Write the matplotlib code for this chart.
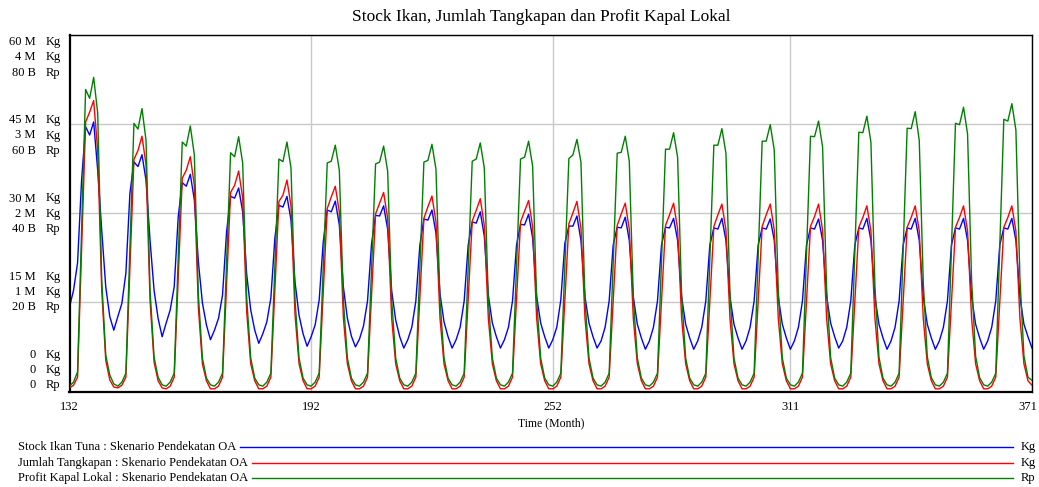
import numpy as np
import matplotlib
matplotlib.use("Agg")
import matplotlib.pyplot as plt
from matplotlib.lines import Line2D
from matplotlib.transforms import ScaledTranslation

plt.rcParams['font.family'] = ['Liberation Serif', 'DejaVu Serif']

months = np.arange(132, 372)

# Stock Ikan Tuna (M Kg), one row per 12-month season
stock_ikan = [
    14.2, 17.0, 21.6, 35.5, 44.5, 43.1, 45.3, 37.2, 27.1, 17.6, 12.6, 10.3,
    12.6, 14.8, 19.9, 33.3, 38.6, 37.8, 39.8, 35.5, 25.4, 17.0, 12.3, 9.2,
    11.5, 13.7, 17.6, 29.4, 35.1, 34.5, 36.5, 32.2, 21.8, 14.9, 11.2, 8.7,
    10.3, 12.3, 16.2, 26.8, 32.8, 32.5, 34.2, 30.2, 19.7, 13.7, 10.3, 8.1,
    9.7, 11.7, 15.7, 25.8, 31.3, 31.0, 32.8, 28.8, 18.4, 12.8, 9.7, 7.6,
    9.2, 11.2, 15.4, 25.1, 30.5, 30.2, 32.0, 28.0, 17.6, 12.3, 9.3, 7.5,
    8.8, 11.0, 15.2, 24.8, 29.6, 29.5, 31.2, 27.3, 16.9, 12.0, 9.2, 7.3,
    8.7, 10.8, 15.2, 24.6, 29.0, 28.8, 30.5, 26.6, 16.4, 11.7, 9.2, 7.3,
    8.7, 10.8, 15.2, 24.6, 28.5, 28.3, 30.2, 26.1, 16.2, 11.5, 9.2, 7.3,
    8.7, 10.8, 15.2, 24.6, 28.1, 28.0, 29.8, 25.8, 16.0, 11.5, 9.2, 7.3,
    8.7, 10.8, 15.4, 24.9, 27.8, 27.8, 29.5, 25.4, 15.9, 11.5, 9.2, 7.3,
    8.5, 10.8, 15.2, 24.6, 27.6, 27.5, 29.3, 25.4, 15.9, 11.3, 9.0, 7.1,
    8.5, 10.8, 15.2, 24.6, 27.6, 27.5, 29.1, 25.4, 15.9, 11.3, 9.0, 7.1,
    8.5, 10.8, 15.2, 24.6, 27.5, 27.3, 29.1, 25.4, 15.9, 11.3, 9.0, 7.1,
    8.5, 10.8, 15.2, 24.6, 27.5, 27.3, 29.0, 25.4, 15.9, 11.3, 9.0, 7.1,
    8.5, 10.8, 15.2, 24.6, 27.5, 27.3, 29.0, 25.4, 16.0, 11.5, 9.2, 7.3,
    8.5, 10.8, 15.2, 24.6, 27.5, 27.3, 29.1, 25.4, 15.9, 11.3, 9.0, 7.1,
    8.5, 10.8, 15.2, 24.6, 27.5, 27.3, 29.1, 25.4, 15.9, 11.3, 9.0, 7.1,
    8.5, 10.8, 15.2, 24.6, 27.5, 27.3, 29.1, 25.4, 15.9, 11.3, 9.0, 7.1,
    8.5, 10.8, 15.2, 24.6, 27.5, 27.3, 29.1, 25.4, 15.9, 11.3, 9.2, 7.3,
]

# Jumlah Tangkapan (M Kg)
jumlah_tangkapan = [
    0.04, 0.07, 0.16, 1.58, 3.02, 3.13, 3.26, 2.70, 1.14, 0.35, 0.13, 0.05,
    0.04, 0.07, 0.16, 1.38, 2.60, 2.70, 2.86, 2.54, 1.02, 0.33, 0.12, 0.04,
    0.03, 0.06, 0.16, 1.27, 2.39, 2.48, 2.63, 2.31, 0.94, 0.31, 0.12, 0.03,
    0.03, 0.06, 0.16, 1.19, 2.23, 2.31, 2.47, 2.17, 0.89, 0.31, 0.12, 0.03,
    0.03, 0.06, 0.16, 1.14, 2.13, 2.20, 2.37, 2.08, 0.86, 0.31, 0.12, 0.03,
    0.03, 0.06, 0.16, 1.10, 2.05, 2.18, 2.30, 2.01, 0.83, 0.31, 0.12, 0.03,
    0.03, 0.06, 0.16, 1.08, 1.99, 2.11, 2.23, 1.94, 0.82, 0.31, 0.12, 0.03,
    0.03, 0.06, 0.16, 1.05, 1.94, 2.07, 2.19, 1.90, 0.82, 0.31, 0.12, 0.03,
    0.03, 0.06, 0.16, 1.04, 1.91, 2.03, 2.16, 1.86, 0.82, 0.31, 0.12, 0.03,
    0.03, 0.06, 0.16, 1.03, 1.90, 2.02, 2.14, 1.85, 0.82, 0.31, 0.12, 0.03,
    0.03, 0.06, 0.16, 1.02, 1.88, 2.00, 2.13, 1.83, 0.82, 0.31, 0.12, 0.03,
    0.03, 0.06, 0.16, 1.01, 1.86, 1.99, 2.11, 1.82, 0.82, 0.31, 0.12, 0.03,
    0.03, 0.06, 0.16, 1.01, 1.86, 1.98, 2.11, 1.82, 0.82, 0.31, 0.12, 0.03,
    0.03, 0.06, 0.16, 1.01, 1.85, 1.98, 2.10, 1.81, 0.82, 0.31, 0.12, 0.03,
    0.03, 0.06, 0.16, 1.01, 1.85, 1.98, 2.10, 1.81, 0.82, 0.31, 0.12, 0.03,
    0.03, 0.06, 0.16, 1.00, 1.85, 1.96, 2.10, 1.81, 0.82, 0.31, 0.12, 0.03,
    0.03, 0.06, 0.16, 1.00, 1.84, 1.95, 2.08, 1.80, 0.82, 0.31, 0.12, 0.03,
    0.03, 0.06, 0.16, 1.00, 1.84, 1.95, 2.08, 1.80, 0.82, 0.31, 0.12, 0.03,
    0.03, 0.06, 0.16, 1.00, 1.84, 1.95, 2.08, 1.80, 0.82, 0.31, 0.12, 0.03,
    0.03, 0.06, 0.16, 1.00, 1.84, 1.95, 2.08, 1.80, 0.82, 0.31, 0.12, 0.07,
]

# Profit Kapal Lokal (B Rp)
profit_kapal = [
    1.2, 2.1, 4.4, 36.2, 67.7, 65.7, 70.4, 62.4, 25.0, 8.2, 3.7, 1.7,
    1.2, 2.1, 4.1, 32.1, 60.1, 58.8, 63.4, 56.3, 22.7, 7.7, 3.2, 1.5,
    1.2, 2.1, 4.1, 30.1, 55.9, 55.0, 59.5, 53.0, 21.6, 7.5, 3.0, 1.5,
    1.2, 2.1, 4.1, 28.8, 53.5, 52.6, 57.1, 51.2, 20.9, 7.5, 3.0, 1.5,
    1.2, 2.1, 4.1, 28.1, 52.1, 51.5, 55.9, 50.1, 20.5, 7.5, 3.0, 1.5,
    1.2, 2.1, 4.1, 27.7, 51.2, 51.6, 55.2, 49.6, 20.5, 7.5, 3.0, 1.5,
    1.2, 2.1, 4.1, 27.5, 51.0, 51.4, 55.0, 49.4, 20.5, 7.5, 3.0, 1.5,
    1.2, 2.1, 4.1, 27.8, 51.4, 51.8, 55.4, 49.8, 20.5, 7.5, 3.0, 1.5,
    1.2, 2.1, 4.1, 27.9, 51.6, 52.1, 55.7, 50.1, 20.5, 7.5, 3.0, 1.5,
    1.2, 2.1, 4.1, 28.1, 52.1, 52.5, 56.1, 50.5, 20.5, 7.5, 3.0, 1.5,
    1.2, 2.1, 4.1, 28.2, 52.2, 53.0, 56.5, 51.4, 20.5, 7.5, 3.0, 1.5,
    1.2, 2.1, 4.1, 28.8, 53.4, 53.6, 57.2, 51.6, 21.0, 7.5, 3.0, 1.5,
    1.2, 2.1, 4.1, 29.2, 54.3, 54.3, 58.0, 52.5, 21.5, 7.5, 3.0, 1.5,
    1.2, 2.1, 4.1, 29.7, 55.2, 55.2, 58.9, 53.4, 22.0, 7.5, 3.0, 1.5,
    1.2, 2.1, 4.1, 30.1, 56.1, 56.1, 59.8, 54.1, 22.5, 7.5, 3.0, 1.5,
    1.2, 2.1, 4.1, 30.7, 57.2, 57.1, 60.6, 54.8, 23.0, 7.6, 3.0, 1.5,
    1.2, 2.1, 4.1, 31.1, 58.1, 58.0, 61.7, 55.9, 23.5, 7.7, 3.0, 1.5,
    1.2, 2.1, 4.1, 31.6, 59.0, 58.9, 62.7, 56.3, 24.5, 7.8, 3.1, 1.5,
    1.2, 2.1, 4.1, 32.1, 60.1, 59.8, 63.7, 57.7, 25.0, 7.9, 3.1, 1.5,
    1.2, 2.1, 4.1, 32.6, 61.0, 60.6, 64.5, 58.6, 25.5, 8.0, 3.2, 2.5,
]

x_ticks = [132, 192, 252, 311, 371]
stock_ticks = [0, 15, 30, 45, 60]
tangkapan_ticks = [0, 1, 2, 3, 4]
profit_ticks = [0, 20, 40, 60, 80]

series_names = ["Stock Ikan Tuna : Skenario Pendekatan OA",
                "Jumlah Tangkapan : Skenario Pendekatan OA",
                "Profit Kapal Lokal : Skenario Pendekatan OA"]
series_units = ["Kg", "Kg", "Rp"]
series_colors = ["#0000ff", "#ff0000", "#008000"]

W, H = 1039, 487
fig = plt.figure(figsize=(W / 100, H / 100), dpi=100)
x0, x1, y_top, y_bot = 69.5, 1032.0, 34.5, 391.5
ax = fig.add_axes([x0 / W, 1 - y_bot / H, (x1 - x0) / W, (y_bot - y_top) / H])

ax_red = ax.twinx()
ax_green = ax.twinx()

ax.plot(months, stock_ikan, color=series_colors[0], lw=1.0)
ax_red.plot(months, jumlah_tangkapan, color=series_colors[1], lw=1.0)
ax_green.plot(months, profit_kapal, color=series_colors[2], lw=1.0)

ax.set_xlim(132, 371)
ax.set_ylim(stock_ticks[0], stock_ticks[-1])
ax_red.set_ylim(tangkapan_ticks[0], tangkapan_ticks[-1])
ax_green.set_ylim(profit_ticks[0], profit_ticks[-1])
for a in (ax_red, ax_green):
    a.axis("off")

ax.set_xticks(x_ticks)
ax.set_xticklabels([str(t) for t in x_ticks], fontsize=9)
ax.set_yticks(stock_ticks)
ax.set_yticklabels([])
ax.tick_params(length=0, pad=7)
ax.grid(True, color="#c8c8c8", lw=1.0)
ax.set_axisbelow(True)
for side, sp in ax.spines.items():
    sp.set_color("black")
    sp.set_linewidth(1.6 if side in ("left", "bottom") else 1.0)
ax.set_xlabel("Time (Month)", fontsize=8.5, labelpad=3)

# last tick label sits on the right border; nudge it so it stays on the canvas
last = ax.get_xticklabels()[-1]
last.set_transform(last.get_transform() + ScaledTranslation(-4 / 100, 0, fig.dpi_scale_trans))

fig.text(541 / W, 1 - 17 / H, "Stock Ikan, Jumlah Tangkapan dan Profit Kapal Lokal",
         ha="center", va="center", fontsize=12.5)


def fmt(v, suffix):
    return "0" if v == 0 else f"{v:g} {suffix}"


# stacked value labels on the left, top group first
groups = list(zip(stock_ticks[::-1], tangkapan_ticks[::-1], profit_ticks[::-1]))
for g, (s, t, p) in enumerate(groups):
    mid = 57.3 + g * 78.2
    rows = [(fmt(s, "M"), "Kg"), (fmt(t, "M"), "Kg"), (fmt(p, "B"), "Rp")]
    for i, (num, unit) in enumerate(rows):
        yy = 1 - (mid + (i - 1) * 15.2) / H
        fig.text(35.5 / W, yy, num, ha="right", va="center", fontsize=9)
        fig.text(45.5 / W, yy, unit, ha="left", va="center", fontsize=9)

# legend rows under the chart
fig.canvas.draw()
renderer = fig.canvas.get_renderer()
for i, (name, unit, col) in enumerate(zip(series_names, series_units, series_colors)):
    yy = 1 - (447 + i * 15.6) / H
    t = fig.text(18 / W, yy, name, ha="left", va="center", fontsize=9)
    bb = t.get_window_extent(renderer)
    fig.add_artist(Line2D([(bb.x1 + 4) / W, 1013 / W], [yy, yy], color=col, lw=1.0,
                          transform=fig.transFigure))
    fig.text(1021 / W, yy, unit, ha="left", va="center", fontsize=9)

fig.savefig("out.png", dpi=100)
